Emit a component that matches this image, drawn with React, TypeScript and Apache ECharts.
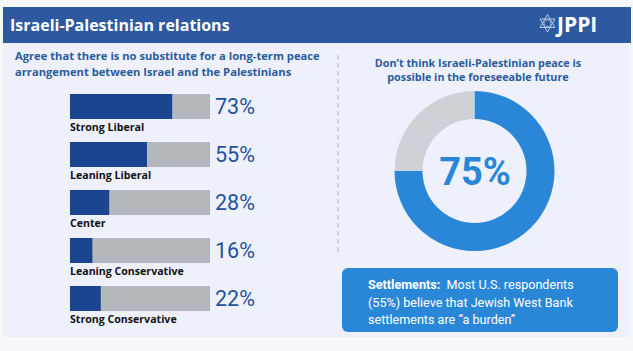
import React, { useEffect, useRef } from "react";
import * as echarts from "echarts";

const categories = [
  "Strong Liberal",
  "Leaning Liberal",
  "Center",
  "Leaning Conservative",
  "Strong Conservative",
];
const agreeValues = [73, 55, 28, 16, 22];
const donutValues = [75, 25];
const donutNames = ["Don't think peace is possible", "Other"];

const title = "Israeli-Palestinian relations";
const leftSubtitle =
  "Agree that there is no substitute for a long-term peace\narrangement between Israel and the Palestinians";
const rightSubtitle =
  "Don\u2019t think Israeli-Palestinian peace is\npossible in the foreseeable future";

const FONT = "Roboto, 'Noto Sans', sans-serif";
const WIDE = "'Open Sans', 'Noto Sans', sans-serif";

export default function App() {
  const ref = useRef<HTMLDivElement>(null);
  useEffect(() => {
    if (!ref.current) return;
    const chart = echarts.init(ref.current, null, { renderer: "svg" });
    const option: any = {
      animation: false,
      backgroundColor: "#f7f8fc",
      graphic: [
        { type: "rect", silent: true, z: -10, shape: { x: 3, y: 43, width: 628, height: 294 }, style: { fill: "#eef1fb" } },
        { type: "rect", silent: true, z: -9, shape: { x: 3, y: 7, width: 628, height: 36 }, style: { fill: "#2c59a0" } },
        {
          type: "text", x: 10, y: 25,
          style: { text: title, fill: "#ffffff", font: `bold 16px ${WIDE}`, verticalAlign: "middle" },
        },
        // logo star
        {
          type: "polygon",
          shape: { points: [[547.5, 14.5], [555, 27.5], [540, 27.5]] },
          style: { fill: "none", stroke: "#b8c8ea", lineWidth: 1 },
        },
        {
          type: "polygon",
          shape: { points: [[547.5, 32], [555, 19], [540, 19]] },
          style: { fill: "none", stroke: "#b8c8ea", lineWidth: 1 },
        },
        {
          type: "circle",
          shape: { cx: 547.5, cy: 23.3, r: 3.5 },
          style: { fill: "none", stroke: "#b8c8ea", lineWidth: 0.8 },
        },
        {
          type: "text", x: 557, y: 23.5,
          style: { text: "JPPI", fill: "#ffffff", font: `bold 21px ${WIDE}`, verticalAlign: "middle" },
        },
        {
          type: "text", x: 15, y: 63.5,
          style: {
            text: leftSubtitle, fill: "#2b5b9b", font: `bold 11.2px ${WIDE}`,
            lineHeight: 15.5, verticalAlign: "middle",
          },
        },
        {
          type: "text", x: 478, y: 69,
          style: {
            text: rightSubtitle, fill: "#2b5b9b", font: `bold 10.8px ${WIDE}`,
            lineHeight: 14, align: "center", verticalAlign: "middle",
          },
        },
        {
          type: "line",
          shape: { x1: 338, y1: 55, x2: 338, y2: 254 },
          style: { stroke: "#b4b6bc", lineWidth: 1, lineDash: [5, 3] },
        },
        {
          type: "text", x: 475, y: 172,
          style: {
            text: `${donutValues[0]}%`, fill: "#2a87d8", font: `bold 38px ${FONT}`,
            align: "center", verticalAlign: "middle",
          },
        },
        {
          type: "rect",
          shape: { x: 342, y: 268, width: 276, height: 64, r: 6 },
          style: { fill: "#2a87d8" },
        },
        {
          type: "text", x: 368, y: 302,
          style: {
            text: "{b|Settlements:}  Most U.S. respondents\n(55%) believe that Jewish West Bank\nsettlements are \u201ca burden\u201d",
            fill: "#ffffff",
            font: `12.6px ${FONT}`,
            lineHeight: 17.5,
            verticalAlign: "middle",
            rich: {
              b: { fill: "#ffffff", fontWeight: "bold", fontSize: 12.6, fontFamily: FONT, lineHeight: 17.5 },
            },
          },
        },
      ],
      grid: { left: 70, width: 140, top: 82.5, height: 240, containLabel: false },
      xAxis: { type: "value", min: 0, max: 100, show: false },
      yAxis: [
        {
          type: "category", data: categories, inverse: true, show: false,
        },
        {
          type: "category",
          data: agreeValues.map((v) => `${v}%`),
          inverse: true,
          position: "right",
          axisLine: { show: false },
          axisTick: { show: false },
          axisLabel: {
            margin: 5, fontSize: 21.5, color: "#24519c", fontFamily: FONT, fontWeight: 400,
          },
        },
      ],
      series: [
        {
          type: "bar",
          data: agreeValues,
          yAxisIndex: 0,
          barWidth: 25,
          silent: true,
          itemStyle: { color: "#1c458f" },
          showBackground: true,
          backgroundStyle: { color: "#b2b8bb" },
          label: {
            show: true,
            position: [0, 33],
            formatter: "{b}",
            align: "left",
            verticalAlign: "middle",
            color: "#111111",
            fontSize: 10.6,
            fontWeight: "bold",
            fontFamily: WIDE,
          },
        },
        {
          type: "pie",
          center: [474.5, 171],
          radius: [52, 80],
          startAngle: 90,
          clockwise: true,
          silent: true,
          label: { show: false },
          labelLine: { show: false },
          data: donutValues.map((v, i) => ({
            name: donutNames[i],
            value: v,
            itemStyle: { color: i === 0 ? "#2a87d8" : "#ccd2d6" },
          })),
        },
      ],
    };
    chart.setOption(option);
    return () => chart.dispose();
  }, []);
  return (
    <div
      ref={ref}
      style={{ position: "fixed", left: 0, top: 0, width: 633, height: 351 }}
    />
  );
}
